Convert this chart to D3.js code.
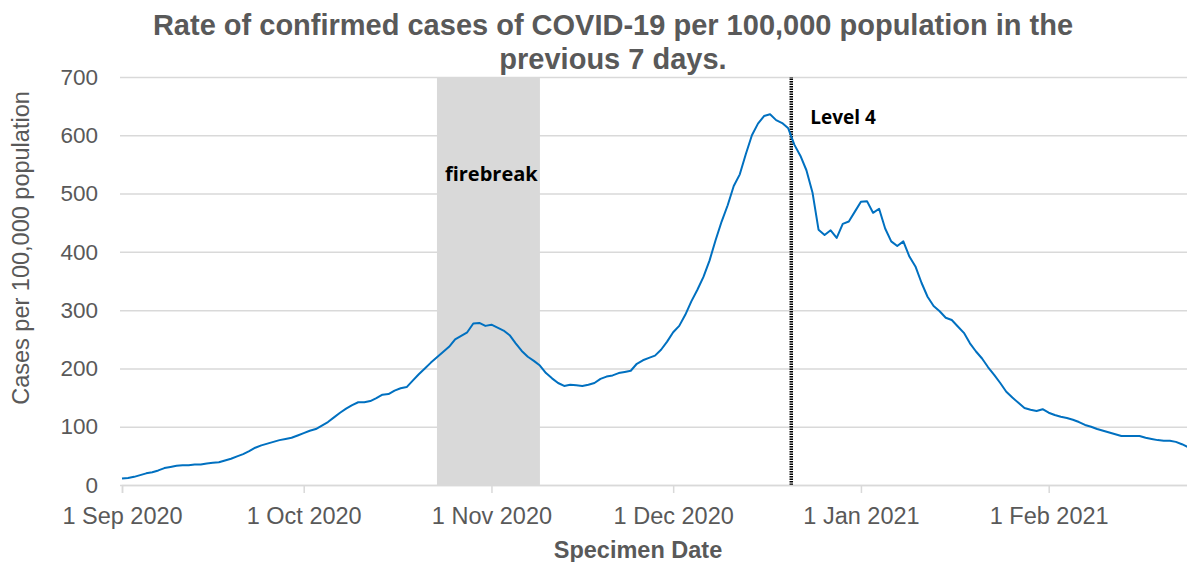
<!DOCTYPE html>
<html>
<head>
<meta charset="utf-8">
<script src="https://cdn.jsdelivr.net/npm/d3@7"></script>
<style>
    body { margin: 0; background: #fff; }
    svg { display: block; font-family: "Liberation Sans", Arial, sans-serif; }
</style>
</head>
<body>
<svg class="chart-container" width="1187" height="562"></svg>
<script>
// daily 7-day rate per 100,000, one array per month (first value = 1st of month)
const sep2020 = [11, 12, 14, 17, 20, 22, 25, 29, 31, 33, 34, 34, 35, 35, 37, 38, 39, 42, 45, 49,
    53, 58, 64, 68, 71, 74, 77, 79, 81, 85];
const oct2020 = [89, 93, 96, 102, 108, 116, 124, 131, 137, 142, 142, 144, 149, 155, 156, 162, 166, 168, 179, 190,
    200, 210, 219, 228, 237, 250, 256, 262, 277, 278, 273];
const nov2020 = [275, 270, 265, 257, 243, 230, 220, 213, 205, 192, 183, 175, 170, 172, 171, 170, 172, 175, 182, 186,
    188, 192, 194, 196, 208, 214, 218, 222, 232, 246];
const dec2020 = [262, 273, 292, 315, 335, 357, 385, 420, 452, 480, 513, 533, 568, 600, 620, 633, 636, 626, 621, 612,
    584, 565, 540, 502, 438, 429, 437, 424, 448, 452, 469];
const jan2021 = [486, 487, 467, 474, 440, 418, 410, 418, 392, 375, 347, 323, 307, 298, 287, 283, 272, 261, 243, 229,
    217, 202, 189, 175, 160, 150, 141, 132, 129, 127, 130];
const feb2021 = [124, 120, 117, 115, 112, 108, 103, 100, 96, 93, 90, 87, 84, 84, 84, 84, 81, 79, 77, 76,
    76, 74, 70, 65];

const firstDay = "2020-09-01";
const monthTicks = ["2020-09-01", "2020-10-01", "2020-11-01", "2020-12-01", "2021-01-01", "2021-02-01"];
const yTicks = [0, 100, 200, 300, 400, 500, 600, 700];
const firebreak = ["2020-10-23", "2020-11-09"];
const level4Date = "2020-12-20T12:00";

const titleLines = ["Rate of confirmed cases of COVID-19 per 100,000 population in the", "previous 7 days."];
const yTitle = "Cases per 100,000 population";
const xTitle = "Specimen Date";

const parse = d3.timeParse("%Y-%m-%d");
const parseTime = d3.timeParse("%Y-%m-%dT%H:%M");

const values = [].concat(sep2020, oct2020, nov2020, dec2020, jan2021, feb2021);
const data = values.map((v, i) => ({date: d3.timeDay.offset(parse(firstDay), i), value: v}));

const margins = {left: 122, right: -1, top: 77, bottom: 77};
const width = 1187, height = 562;
const textGrey = "#595959";
const gridGrey = "#d9d9d9";

const svg = d3.select(".chart-container");

const scaleX = d3.scaleTime()
    .domain(d3.extent(data, d => d.date))
    .range([margins.left, width - margins.right]);

const scaleY = d3.scaleLinear()
    .domain([0, 700])
    .range([height - margins.bottom, margins.top]);

function drawYAxis() {
    const yAxis = d3.axisLeft(scaleY)
        .tickValues(yTicks)
        .tickSize(-(width - margins.left + 2))
        .tickPadding(22);

    const g = svg.append("g")
        .attr("transform", `translate(${margins.left - 2}, 0)`)
        .call(yAxis);

    g.select(".domain").remove();
    g.selectAll(".tick line").attr("stroke", gridGrey).attr("stroke-width", 1.5);
    g.selectAll(".tick text")
        .attr("fill", textGrey)
        .style("font-size", "22.5px")
        .style("font-family", "Liberation Sans, Arial, sans-serif");
}

function drawXAxis() {
    const xAxis = d3.axisBottom(scaleX)
        .tickValues(monthTicks.map(parse))
        .tickFormat(d3.timeFormat("%-d %b %Y"))
        .tickSize(8)
        .tickPadding(14);

    const g = svg.append("g")
        .attr("transform", `translate(0, ${scaleY(0)})`)
        .call(xAxis);

    g.select(".domain").attr("stroke", gridGrey).attr("stroke-width", 1.5);
    g.selectAll(".tick line").attr("stroke", gridGrey).attr("stroke-width", 1.5);
    g.selectAll(".tick text")
        .attr("fill", textGrey)
        .style("font-size", "23.5px")
        .style("font-family", "Liberation Sans, Arial, sans-serif");
}

function drawAnnotations() {
    const x0 = scaleX(parse(firebreak[0]));
    const x1 = scaleX(parse(firebreak[1]));

    svg.append("rect")
        .attr("x", x0)
        .attr("y", scaleY(700))
        .attr("width", x1 - x0)
        .attr("height", scaleY(0) - scaleY(700))
        .attr("fill", "#d9d9d9");

    svg.append("text")
        .attr("x", x0 + 8)
        .attr("y", 181)
        .attr("fill", "#000")
        .style("font-family", "Open Sans, sans-serif")
        .style("font-weight", "bold")
        .style("font-size", "20px")
        .text("firebreak");

    const xl = scaleX(parseTime(level4Date));
    svg.append("line")
        .attr("x1", xl).attr("x2", xl)
        .attr("y1", scaleY(0)).attr("y2", scaleY(700))
        .attr("stroke", "#000")
        .attr("stroke-width", 3.5)
        .attr("stroke-dasharray", "1.6 0.9");

    svg.append("text")
        .attr("x", xl + 19)
        .attr("y", 124)
        .attr("fill", "#000")
        .style("font-family", "Open Sans, sans-serif")
        .style("font-weight", "bold")
        .style("font-size", "19px")
        .text("Level 4");
}

function drawChartArea() {
    const line = d3.line()
        .x(d => scaleX(d.date))
        .y(d => scaleY(d.value));

    svg.append("path")
        .datum(data)
        .attr("fill", "none")
        .attr("stroke", "#0070c0")
        .attr("stroke-width", 2)
        .attr("stroke-linejoin", "round")
        .attr("d", line);
}

function drawTitles() {
    svg.append("text")
        .attr("text-anchor", "middle")
        .attr("fill", textGrey)
        .style("font-weight", "bold")
        .style("font-size", "29px")
        .selectAll("tspan")
        .data(titleLines)
        .enter()
        .append("tspan")
        .attr("x", 613)
        .attr("y", (d, i) => 35 + i * 34)
        .text(d => d);

    svg.append("text")
        .attr("transform", "translate(29, 248) rotate(-90)")
        .attr("text-anchor", "middle")
        .attr("fill", textGrey)
        .style("font-size", "23.5px")
        .text(yTitle);

    svg.append("text")
        .attr("x", 638)
        .attr("y", 558)
        .attr("text-anchor", "middle")
        .attr("fill", textGrey)
        .style("font-weight", "bold")
        .style("font-size", "23.5px")
        .text(xTitle);
}

drawYAxis();
drawAnnotations();
drawXAxis();
drawChartArea();
drawTitles();
</script>
</body>
</html>
